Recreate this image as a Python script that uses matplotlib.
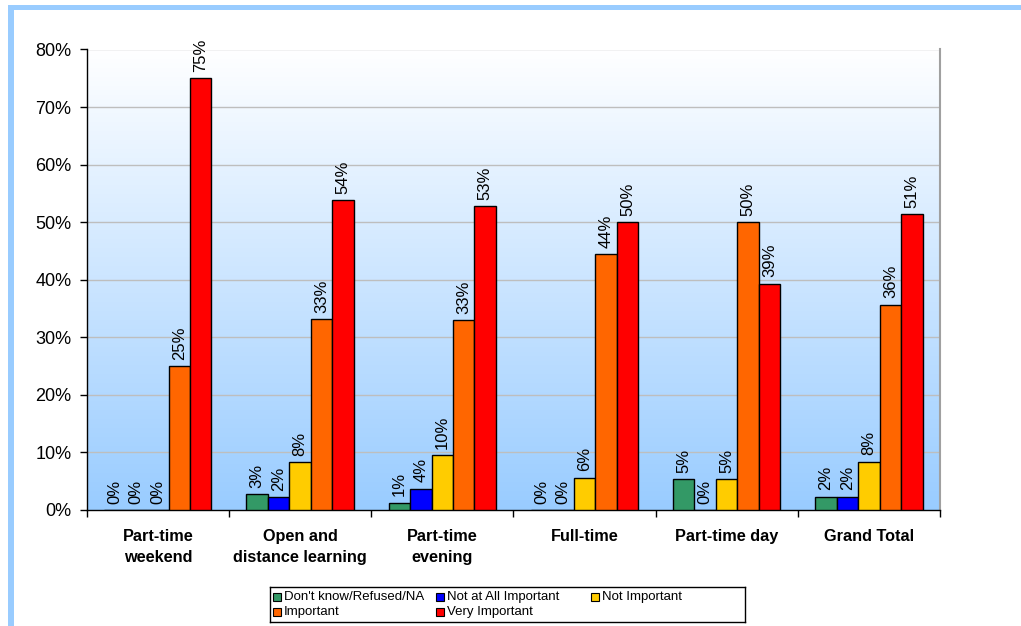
import numpy as np
import matplotlib.pyplot as plt
import matplotlib.patches as mpatches
from matplotlib.colors import LinearSegmentedColormap

plt.rcParams['font.family'] = ['Liberation Sans', 'DejaVu Sans']

# --- data (percent) ---
categories = ["Part-time\nweekend", "Open and\ndistance learning", "Part-time\nevening",
              "Full-time", "Part-time day", "Grand Total"]
series_names = ["Don't know/Refused/NA", "Not at All Important", "Not Important",
                "Important", "Very Important"]
dont_know = [0.0, 2.7, 1.3, 0.0, 5.4, 2.3]
not_at_all = [0.0, 2.2, 3.7, 0.0, 0.0, 2.3]
not_important = [0.0, 8.3, 9.5, 5.6, 5.4, 8.4]
important = [25.0, 33.2, 33.0, 44.4, 50.0, 35.7]
very_important = [75.0, 53.8, 52.8, 50.0, 39.3, 51.4]

series = [dont_know, not_at_all, not_important, important, very_important]
colors = ["#339966", "#0000FF", "#FFCC00", "#FF6600", "#FF0000"]

W, H = 1021, 626
fig = plt.figure(figsize=(W / 100, H / 100), dpi=100)
fig.patch.set_facecolor("white")

# light-blue frame on the top and left edges
fig.add_artist(mpatches.Rectangle((8 / W, 0), 6 / W, 1 - 5 / H,
                                  transform=fig.transFigure, color="#99CCFF", lw=0))
fig.add_artist(mpatches.Rectangle((8 / W, 1 - 10 / H), 1, 5 / H,
                                  transform=fig.transFigure, color="#99CCFF", lw=0))

ax = fig.add_axes([86.7 / W, 1 - 510 / H, (940 - 86.7) / W, (510 - 49.5) / H])

n = len(categories)
x = np.arange(n)
bw = 0.151

# gradient background: white at top to light blue at bottom
grad = np.linspace(0, 1, 256).reshape(-1, 1)
cmap = LinearSegmentedColormap.from_list("bg", ["#99CCFF", "#FFFFFF"])
ax.imshow(grad, extent=(-0.5, n - 0.5, 0, 80), origin="lower", aspect="auto",
          cmap=cmap, zorder=0)

for v in range(10, 90, 10):
    ax.axhline(v, color="#BEBEBE", lw=1.0, zorder=1)

for i, (vals, col) in enumerate(zip(series, colors)):
    pos = x + (i - 2) * bw
    ax.bar(pos, vals, width=bw, color=col, edgecolor="black", linewidth=1.0, zorder=3)
    for px, v in zip(pos, vals):
        ax.text(px, v + 1.1, f"{v:.0f}%", rotation=90, ha="center", va="bottom",
                fontsize=12, zorder=4)

ax.set_xlim(-0.5, n - 0.5)
ax.set_ylim(0, 80)
ax.set_yticks(range(0, 90, 10))
ax.set_yticklabels([f"{v}%" for v in range(0, 90, 10)], fontsize=13)

ax.set_xticks(np.arange(-0.5, n, 1.0))
ax.set_xticklabels([])
ax.set_xticks(x, minor=True)
ax.set_xticklabels(categories, minor=True, fontsize=11.7, fontweight="bold",
                   va="top", linespacing=1.5)
ax.tick_params(axis="x", which="minor", length=0, pad=14)
ax.tick_params(axis="x", which="major", direction="out", length=5, width=1)
ax.tick_params(axis="y", direction="out", length=5, width=1, pad=6)

for side in ["left", "bottom"]:
    ax.spines[side].set_color("black")
    ax.spines[side].set_linewidth(1.0)
ax.spines["right"].set_color("#A0A0A0")
ax.spines["right"].set_linewidth(1.5)
ax.spines["top"].set_visible(False)

# legend box with fixed-width columns, filled row by row
lx0, lx1, ly0, ly1 = 270, 745, 587, 622
lax = fig.add_axes([lx0 / W, 1 - ly1 / H, (lx1 - lx0) / W, (ly1 - ly0) / H])
lax.set_xlim(lx0, lx1)
lax.set_ylim(ly1, ly0)
lax.set_xticks([])
lax.set_yticks([])
for s in lax.spines.values():
    s.set_linewidth(1.0)
    s.set_color("black")
col_x = [273, 436, 591]
row_y = [597, 612]
for k, (name, col) in enumerate(zip(series_names, colors)):
    r, c = divmod(k, 3)
    lax.add_patch(mpatches.Rectangle((col_x[c], row_y[r] - 4), 8, 8, facecolor=col,
                                     edgecolor="black", linewidth=0.8))
    lax.text(col_x[c] + 11, row_y[r], name, fontsize=9.5, va="center", ha="left")

fig.savefig("out.png", dpi=100)
